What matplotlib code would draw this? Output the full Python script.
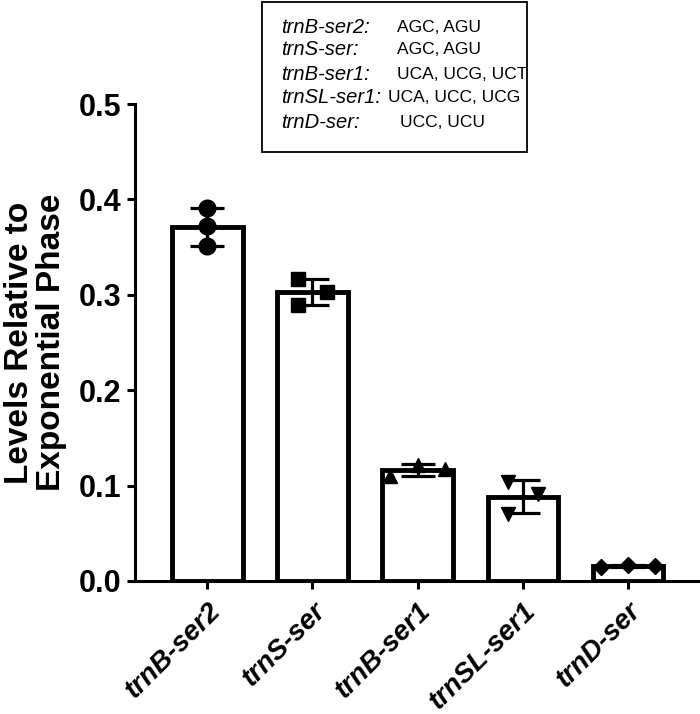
import numpy as np
import matplotlib
matplotlib.use('Agg')
import matplotlib.pyplot as plt
from matplotlib.patches import Rectangle

plt.rcParams['font.family'] = ['Liberation Sans', 'DejaVu Sans']

# data
genes = ['trnB-ser2', 'trnS-ser', 'trnB-ser1', 'trnSL-ser1', 'trnD-ser']
reps_b_ser2 = [0.391, 0.372, 0.351]
reps_s_ser = [0.317, 0.303, 0.289]
reps_b_ser1 = [0.110, 0.122, 0.117]
reps_sl_ser1 = [0.104, 0.091, 0.070]
reps_d_ser = [0.015, 0.017, 0.016]
codons = ['AGC, AGU', 'AGC, AGU', 'UCA, UCG, UCT', 'UCA, UCC, UCG', 'UCC, UCU']

reps = [reps_b_ser2, reps_s_ser, reps_b_ser1, reps_sl_ser1, reps_d_ser]
markers = ['o', 's', '^', 'v', 'D']
msizes = [12, 10.5, 10.5, 10.5, 8]
# horizontal spread of the replicate symbols inside each bar
spread = [[0, 0, 0], [-0.14, 0.14, -0.14], [-0.26, 0, 0.26],
          [-0.14, 0.14, -0.14], [-0.26, 0, 0.26]]

means = [np.mean(r) for r in reps]
sds = [np.std(r, ddof=1) for r in reps]
x = np.arange(len(genes))

fig = plt.figure(figsize=(7, 7.14), dpi=100)
ax = fig.add_axes([0.193, 0.1863, 0.805, 0.668])

ax.bar(x, means, 0.67, color='white', edgecolor='black', linewidth=3.5, zorder=1)
ax.errorbar(x, means, yerr=sds, fmt='none', ecolor='black', elinewidth=2.3,
            capsize=12, capthick=2.3, zorder=3)
for i, r in enumerate(reps):
    ax.plot(x[i] + np.array(spread[i]), r, linestyle='none', marker=markers[i],
            markersize=msizes[i], color='black', zorder=4, clip_on=False)

ax.set_xlim(-0.686, 4.67)
ax.set_ylim(0, 0.5)
ax.set_yticks([0.0, 0.1, 0.2, 0.3, 0.4, 0.5])
ax.set_yticklabels(['0.0', '0.1', '0.2', '0.3', '0.4', '0.5'],
                   fontsize=22, fontweight='bold')
ax.set_xticks(x)
ax.set_xticklabels(genes, rotation=45, ha='right', rotation_mode='anchor',
                   fontsize=20, fontweight='bold', fontstyle='italic')
ax.tick_params(axis='y', length=6, width=2.2, pad=4)
ax.tick_params(axis='x', length=6, width=2.2, pad=6)
for s in ['top', 'right']:
    ax.spines[s].set_visible(False)
for s in ['left', 'bottom']:
    ax.spines[s].set_linewidth(2.2)

ax.set_ylabel('Levels Relative to\nExponential Phase', fontsize=24,
              fontweight='bold', linespacing=1.05, labelpad=8)

# codon box
fig.patches.append(Rectangle((0.374, 0.787), 0.379, 0.21, transform=fig.transFigure,
                             fill=False, edgecolor='black', linewidth=1.3))
ys = [0.962, 0.930, 0.896, 0.863, 0.829]
codon_x = [0.567, 0.567, 0.567, 0.554, 0.571]
for i, g in enumerate(genes):
    fig.text(0.401, ys[i], g + ':', fontsize=14.5, fontstyle='italic', va='center')
    fig.text(codon_x[i], ys[i], codons[i], fontsize=12.5, va='center')

fig.savefig('out.png', dpi=100)
